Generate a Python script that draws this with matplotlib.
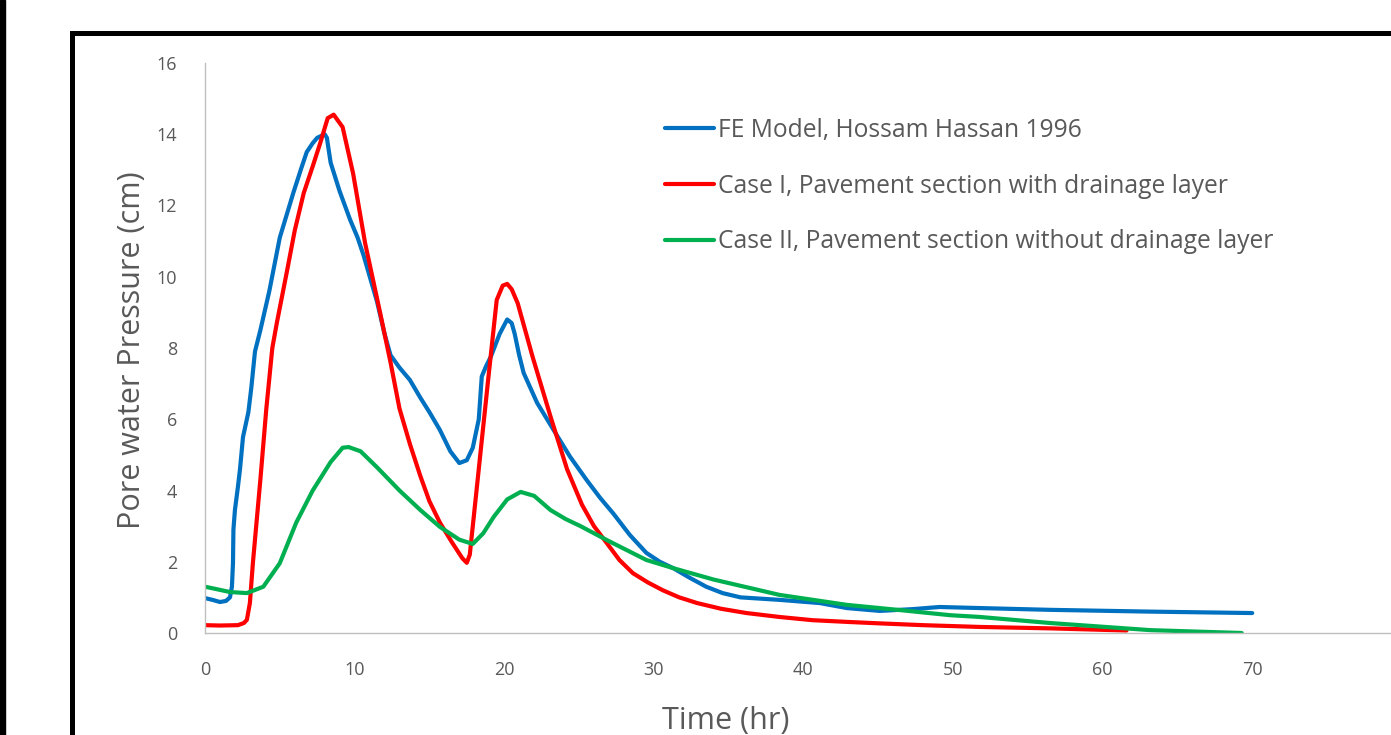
import matplotlib
matplotlib.use("Agg")
import matplotlib.pyplot as plt
from matplotlib.patches import Rectangle
from matplotlib.lines import Line2D

plt.rcParams["font.family"] = ["Open Sans", "DejaVu Sans"]

# FE Model, Hossam Hassan 1996
fe_time = [0.0, 0.5, 1.0, 1.4, 1.67, 1.8, 1.87, 1.9, 2.0, 2.2, 2.34, 2.54, 2.9, 3.1,
           3.34, 3.7, 4.3, 5.0, 5.9, 6.4, 6.8, 7.2, 7.5, 8.0, 8.15, 8.2, 8.4, 9.0,
           9.7, 10.2, 10.6, 11.5, 12.0, 12.4, 13.0, 13.7, 14.4, 15.0, 15.7, 16.4,
           17.0, 17.5, 17.9, 18.3, 18.4, 18.5, 18.8, 19.1, 19.7, 20.2, 20.5, 20.7,
           21.0, 21.3, 22.2, 23.3, 24.4, 25.5, 26.4, 27.3, 28.4, 29.5, 30.4, 31.3,
           32.4, 33.5, 34.6, 35.8, 38.4, 41.1, 42.9, 45.1, 47.3, 49.1, 51.8, 56.5,
           63.2, 70.0]
fe_pressure = [0.98, 0.93, 0.87, 0.9, 1.0, 1.3, 1.96, 2.9, 3.45, 4.1, 4.6, 5.5, 6.2, 6.9,
               7.9, 8.5, 9.6, 11.1, 12.35, 13.0, 13.5, 13.75, 13.9, 14.0, 13.9, 13.75, 13.2, 12.4,
               11.6, 11.1, 10.6, 9.3, 8.4, 7.8, 7.45, 7.1, 6.6, 6.2, 5.7, 5.1,
               4.77, 4.85, 5.2, 6.0, 6.6, 7.2, 7.5, 7.75, 8.4, 8.8, 8.7, 8.4,
               7.8, 7.3, 6.46, 5.7, 4.95, 4.3, 3.8, 3.35, 2.75, 2.25, 2.0, 1.82,
               1.55, 1.3, 1.12, 1.0, 0.93, 0.84, 0.7, 0.62, 0.67, 0.73, 0.7, 0.65,
               0.6, 0.56]

# Case I, Pavement section with drainage layer
case1_time = [0.0, 1.0, 2.2, 2.6, 2.8, 3.0, 3.2, 3.7, 4.1, 4.5, 4.8, 5.5, 6.0, 6.6, 7.2,
              7.7, 8.2, 8.6, 9.2, 9.9, 10.7, 11.7, 12.4, 13.0, 13.7, 14.4, 15.0, 15.7,
              16.5, 17.2, 17.5, 17.7, 18.2, 18.9, 19.5, 19.9, 20.2, 20.5, 20.9, 21.9,
              23.1, 24.2, 25.2, 26.0, 26.9, 27.7, 28.6, 29.6, 30.6, 31.7, 32.9, 34.5,
              36.2, 38.4, 40.6, 43.0, 45.1, 48.0, 51.8, 56.5, 61.6]
case1_pressure = [0.22, 0.21, 0.22, 0.28, 0.37, 0.84, 1.96, 4.3, 6.3, 8.0, 8.7, 10.2, 11.3, 12.35, 13.1,
                  13.75, 14.45, 14.55, 14.2, 12.9, 10.95, 9.0, 7.6, 6.3, 5.3, 4.4, 3.7, 3.1,
                  2.55, 2.1, 1.97, 2.2, 4.2, 7.0, 9.35, 9.75, 9.8, 9.65, 9.26, 7.75,
                  6.07, 4.6, 3.6, 3.0, 2.5, 2.05, 1.68, 1.42, 1.2, 1.0, 0.84, 0.68,
                  0.56, 0.45, 0.36, 0.31, 0.27, 0.22, 0.17, 0.13, 0.07]

# Case II, Pavement section without drainage layer
case2_time = [0.0, 1.67, 2.8, 3.9, 5.0, 6.1, 7.2, 8.4, 9.2, 9.6, 10.4, 11.5, 13.0,
              14.4, 15.7, 17.0, 17.9, 18.6, 19.3, 20.2, 21.1, 22.0, 23.1, 24.1, 25.1,
              26.0, 26.9, 29.5, 31.3, 34.0, 38.4, 42.9, 46.3, 49.8, 51.8, 56.5, 63.2, 69.3]
case2_pressure = [1.3, 1.15, 1.12, 1.3, 1.96, 3.1, 4.0, 4.8, 5.2, 5.22, 5.1, 4.65, 4.0,
                  3.45, 2.98, 2.62, 2.5, 2.8, 3.26, 3.75, 3.96, 3.85, 3.45, 3.2, 3.0,
                  2.8, 2.6, 2.05, 1.82, 1.5, 1.07, 0.79, 0.65, 0.5, 0.45, 0.28, 0.08, 0.0]

SERIES = [
    ("FE Model, Hossam Hassan 1996", fe_time, fe_pressure, "#0070C0"),
    ("Case I, Pavement section with drainage layer", case1_time, case1_pressure, "#FF0000"),
    ("Case II, Pavement section without drainage layer", case2_time, case2_pressure, "#00B050"),
]

x_ticks = [0, 10, 20, 30, 40, 50, 60, 70]
y_ticks = [0, 2, 4, 6, 8, 10, 12, 14, 16]

W, H = 1391, 735
TEXT_GRAY = "#595959"

figure = plt.figure(figsize=(W / 100, H / 100), dpi=100)
figure.patch.set_facecolor("white")

# plot area: x=0 at px 205, 10 units = 149.6 px; y=0 at px 633, 16 at px 63
x0_px, x_unit = 205, 14.96
y0_px, y_top_px = 633, 63
axes = figure.add_axes([x0_px / W, (H - y0_px) / H,
                        (W - x0_px) / W, (y0_px - y_top_px) / H])
axes.set_xlim(0, (W - x0_px) / x_unit)
axes.set_ylim(0, 16)

for label, xs, ys, color in SERIES:
    axes.plot(xs, ys, color=color, linewidth=3.0, label=label,
              solid_capstyle="round", solid_joinstyle="round")

for side in ("top", "right"):
    axes.spines[side].set_visible(False)
for side in ("left", "bottom"):
    axes.spines[side].set_color("#BFBFBF")
    axes.spines[side].set_linewidth(1.0)

axes.set_xticks(x_ticks)
axes.set_yticks(y_ticks)
axes.tick_params(length=0, labelsize=13, labelcolor=TEXT_GRAY)
axes.tick_params(axis="x", pad=20)
axes.tick_params(axis="y", pad=20)

figure.text(132 / W, (H - 350) / H, "Pore water Pressure (cm)", rotation=90,
            ha="center", va="center", fontsize=22, color=TEXT_GRAY)
figure.text(726 / W, (H - 721) / H, "Time (hr)", ha="center", va="center",
            fontsize=22, color=TEXT_GRAY)

legend = axes.legend(loc="upper left", bbox_to_anchor=((655 - x0_px) / (W - x0_px),
                                                       (y0_px - 108) / (y0_px - y_top_px)),
                     frameon=False, fontsize=17.7, handlelength=2.0, handletextpad=0.15,
                     labelspacing=1.25, borderaxespad=0)
for text in legend.get_texts():
    text.set_color(TEXT_GRAY)

# black frame around the screenshot region
figure.patches.append(Rectangle((0, 0), 5 / W, 1, transform=figure.transFigure,
                                color="black", zorder=10))
figure.lines.append(Line2D([71.5 / W, 71.5 / W], [0, (H - 32.5) / H],
                           transform=figure.transFigure, color="black",
                           linewidth=3.6, solid_capstyle="projecting", zorder=10))
figure.lines.append(Line2D([71.5 / W, 1], [(H - 32.5) / H, (H - 32.5) / H],
                           transform=figure.transFigure, color="black",
                           linewidth=3.6, solid_capstyle="projecting", zorder=10))

figure.savefig("out.png", dpi=100)
